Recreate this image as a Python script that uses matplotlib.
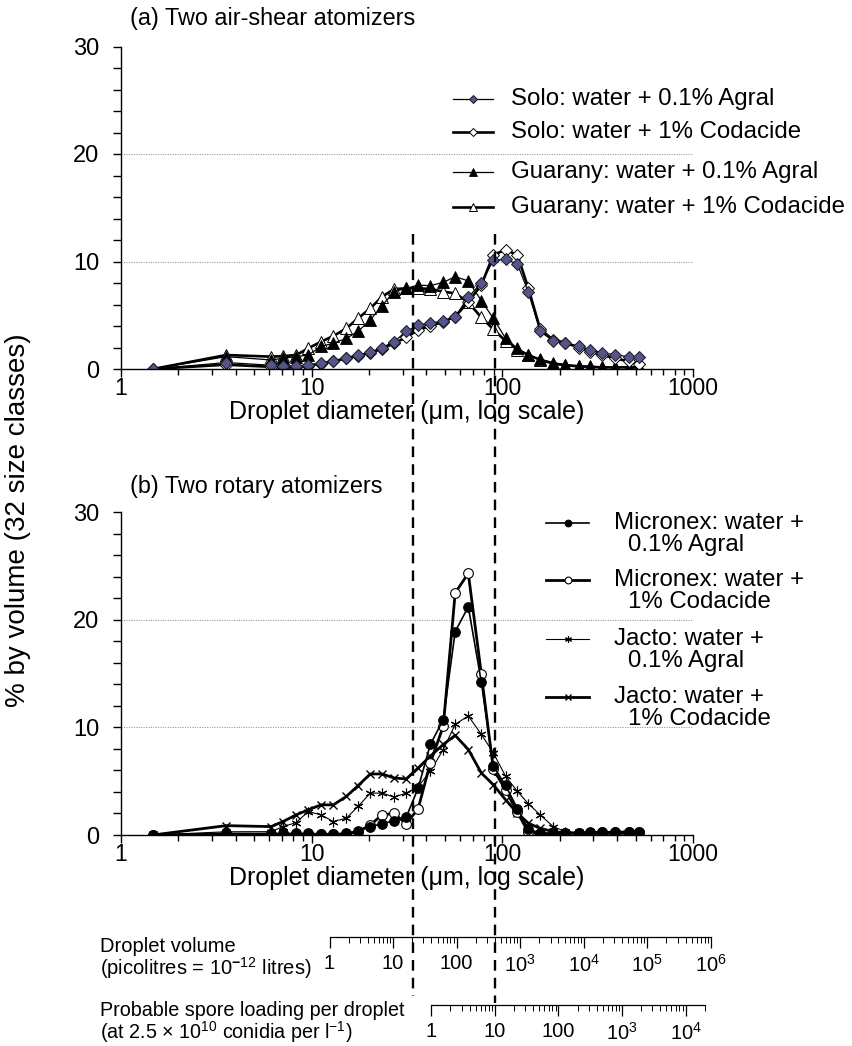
import numpy as np
import matplotlib
matplotlib.use('Agg')
import matplotlib.pyplot as plt
from matplotlib.lines import Line2D
from matplotlib.ticker import LogLocator, NullFormatter

plt.rcParams['font.family'] = ['Liberation Sans', 'DejaVu Sans']
plt.rcParams['mathtext.fontset'] = 'custom'
plt.rcParams['mathtext.rm'] = 'Liberation Sans'
plt.rcParams['mathtext.it'] = 'Liberation Sans:italic'
plt.rcParams['mathtext.bf'] = 'Liberation Sans:bold'
plt.rcParams['axes.linewidth'] = 1.0

# droplet size classes (um)
diam = [1.47, 3.56, 6.13, 7.08, 8.29, 9.59, 11.2, 13.0, 15.2, 17.5, 20.3,
        23.4, 27.1, 31.3, 36.2, 41.9, 49.0, 56.6, 66.3, 77.6, 89.7, 104,
        120, 137, 158, 185, 214, 251, 290, 335, 392, 459, 524]

# (a) air-shear atomizers, % by volume
solo_agral = [0, 0.6, 0.35, 0.3, 0.28, 0.37, 0.55, 0.75, 1.05, 1.3, 1.55,
              2.0, 2.54, 3.5, 4.05, 4.3, 4.45, 4.87, 6.67, 8.03, 10.1, 10.2,
              9.77, 7.13, 3.5, 2.6, 2.4, 2.14, 1.77, 1.52, 1.3, 1.15, 1.15]
solo_codacide = [0, 0.4, 0.2, 0.15, 0.15, 0.3, 0.5, 0.7, 1.0, 1.25, 1.5,
                 1.9, 2.39, 2.95, 3.63, 4.0, 4.4, 4.87, 6.26, 7.81, 10.6, 11.1,
                 10.6, 7.5, 3.69, 2.7, 2.45, 2.0, 1.6, 1.3, 1.0, 0.7, 0.5]
guarany_agral = [0, 1.15, 0.84, 1.0, 1.15, 1.3, 2.1, 2.4, 2.85, 3.5, 4.55,
                 5.9, 7.19, 7.5, 7.81, 7.75, 8.06, 8.59, 8.19, 6.36, 4.71, 2.85,
                 1.92, 1.3, 0.9, 0.6, 0.4, 0.3, 0.25, 0.2, 0.2, 0.2, 0.2]
guarany_codacide = [0, 1.3, 1.15, 1.2, 1.3, 1.92, 2.54, 3.07, 3.78, 4.71, 5.64,
                    6.73, 7.44, 7.5, 7.5, 7.45, 7.19, 7.04, 6.2, 4.8, 3.7, 2.6,
                    1.8, 1.3, 0.85, 0.5, 0.35, 0.25, 0.2, 0.15, 0.15, 0.15, 0.15]

# (b) rotary atomizers, % by volume
micronex_agral = [0, 0.16, 0.1, 0.15, 0.15, 0.15, 0.1, 0.1, 0.15, 0.4, 0.78,
                  1.03, 1.34, 1.65, 4.36, 8.41, 10.7, 18.9, 21.2, 14.2, 6.4, 4.6,
                  2.45, 0.55, 0.18, 0.18, 0.2, 0.2, 0.25, 0.25, 0.28, 0.3, 0.3]
micronex_codacide = [0, 0.05, 0.1, 0.05, 0.05, 0.05, 0.05, 0.05, 0.1, 0.3, 0.93,
                     1.87, 2.0, 1.03, 2.45, 6.7, 10.1, 22.5, 24.3, 14.95, 6.1, 4.2,
                     2.1, 0.25, 0.1, 0.1, 0.15, 0.2, 0.2, 0.25, 0.25, 0.3, 0.3]
jacto_agral = [0, 0.3, 0.31, 0.78, 1.15, 2.18, 1.87, 1.25, 1.56, 2.65, 3.89,
               3.89, 3.52, 3.89, 4.5, 5.92, 7.94, 10.28, 11.06, 9.35, 7.63, 5.45,
               4.05, 2.9, 1.87, 0.78, 0.31, 0.2, 0.2, 0.2, 0.2, 0.2, 0.2]
jacto_codacide = [0, 0.87, 0.78, 1.25, 1.87, 2.34, 2.8, 2.8, 3.58, 4.58, 5.67,
                  5.67, 5.3, 5.2, 6.23, 7.32, 8.41, 9.25, 7.94, 5.76, 4.67, 3.27,
                  2.02, 1.09, 0.62, 0.31, 0.2, 0.15, 0.15, 0.15, 0.15, 0.15, 0.15]

# droplet sizes marked by dashed lines (um) and how far down they run (% units)
cut_sizes = [34, 92]
cut_ends = [-58.3, -59.0]

W, H = 852, 1046
fig = plt.figure(figsize=(W / 100, H / 100), dpi=100)


def box(l, t, r, b):
    return [l / W, 1 - b / H, (r - l) / W, (b - t) / H]


ax_a = fig.add_axes(box(121, 46.5, 693, 369))
ax_b = fig.add_axes(box(121, 512, 693, 835))


def style(ax):
    ax.set_xscale('log')
    ax.set_xlim(1, 1000)
    ax.set_ylim(0, 30)
    ax.patch.set_visible(False)
    ax.spines['top'].set_visible(False)
    ax.spines['right'].set_visible(False)
    ax.set_yticks([0, 10, 20, 30])
    ax.set_yticks(np.arange(0, 31, 2), minor=True)
    ax.set_xticks([1, 10, 100, 1000])
    ax.set_xticklabels(['1', '10', '100', '1000'])
    ax.xaxis.set_minor_locator(LogLocator(subs=np.arange(2, 10)))
    ax.xaxis.set_minor_formatter(NullFormatter())
    ax.tick_params(which='both', direction='out', width=1)
    ax.tick_params(axis='y', which='both', length=5.5)
    ax.tick_params(axis='y', which='major', labelsize=17, pad=10)
    ax.tick_params(axis='x', which='major', length=5.5, labelsize=16.5, pad=0)
    ax.tick_params(axis='x', which='minor', length=4)
    for yv in (10, 20):
        ax.axhline(yv, color='#9a9a9a', lw=0.8, ls=(0, (1, 1.2)), zorder=0)
    ax.set_xlabel('Droplet diameter (μm, log scale)', fontsize=18, labelpad=0)


style(ax_a)
style(ax_b)

solo_fill = '#55558a'
sa = dict(color='k', lw=0.9, marker='D', ms=6, mfc=solo_fill, mec='#1a1a2a', mew=0.7)
sc = dict(color='k', lw=1.9, marker='D', ms=6, mfc='white', mec='k', mew=0.7)
ga = dict(color='k', lw=0.9, marker='^', ms=8, mfc='k', mec='k', mew=0.6)
gc = dict(color='k', lw=1.9, marker='^', ms=8, mfc='white', mec='k', mew=0.7)

ax_a.plot(diam, guarany_codacide, **gc)
ax_a.plot(diam, guarany_agral, **ga)
ax_a.plot(diam, solo_codacide, **sc)
ax_a.plot(diam, solo_agral, **sa)

ma = dict(color='k', lw=1.2, marker='o', ms=7, mfc='k', mec='k', mew=0.7)
mc = dict(color='k', lw=2.0, marker='o', ms=7, mfc='white', mec='k', mew=0.8)
ja = dict(color='k', lw=0.8, marker=(6, 2, 0), ms=7, mec='k', mew=0.8)
jc = dict(color='k', lw=2.0, marker='x', ms=6, mec='k', mew=1.0)

ax_b.plot(diam, jacto_agral, **ja)
ax_b.plot(diam, jacto_codacide, **jc)
ax_b.plot(diam, micronex_codacide, **mc)
ax_b.plot(diam, micronex_agral, **ma)

# dashed reference lines running down through both panels and the scales
for d, y_end in zip(cut_sizes, cut_ends):
    ax_a.plot([d, d], [12.6, y_end], color='k', lw=1.7, ls=(0, (4.5, 3)),
              clip_on=False, zorder=5)


# legends drawn by hand (handle sits level with the first text line)
def key(x0, x1, y, style_kw, lines, tx, indent, size, gap):
    kw = dict(style_kw)
    kw['ms'] = kw['ms'] * 0.7
    fig.add_artist(Line2D([x0 / W, (x0 + x1) / 2 / W, x1 / W], [1 - y / H] * 3,
                          transform=fig.transFigure, markevery=[1], **kw))
    for i, ln in enumerate(lines):
        fig.text((tx + (indent if i else 0)) / W, 1 - (y + i * gap) / H, ln,
                 fontsize=size, va='center', ha='left')


LEG = 17.3
key(453, 493, 99, sa, ['Solo: water + 0.1% Agral'], 511, 0, LEG, 0)
key(453, 493, 132, sc, ['Solo: water + 1% Codacide'], 511, 0, LEG, 0)
key(453, 493, 172, ga, ['Guarany: water + 0.1% Agral'], 511, 0, LEG, 0)
key(453, 493, 207, gc, ['Guarany: water + 1% Codacide'], 511, 0, LEG, 0)

key(546, 589, 523, ma, ['Micronex: water +', '0.1% Agral'], 614, 14, LEG, 22)
key(546, 589, 580, mc, ['Micronex: water +', '1% Codacide'], 614, 14, LEG, 22)
key(546, 589, 639, ja, ['Jacto: water +', '0.1% Agral'], 614, 14, LEG, 22)
key(546, 589, 697, jc, ['Jacto: water +', '1% Codacide'], 614, 14, LEG, 22)

fig.text(130 / W, 1 - 18 / H, '(a) Two air-shear atomizers', fontsize=16.8, va='center')
fig.text(130 / W, 1 - 487 / H, '(b) Two rotary atomizers', fontsize=16.8, va='center')
fig.text(18 / W, 1 - 520 / H, '% by volume (32 size classes)', rotation=90,
         fontsize=20, va='center', ha='center')


# secondary scales: droplet volume (pL) and spore loading per droplet
def px_of_diam(d):
    return 121 + 572 * np.log10(d) / 3


def diam_of_vol(v):
    return (6000 * v / np.pi) ** (1 / 3)


def scale_axis(y, lo, hi, ticks, labels, to_vol):
    xl = px_of_diam(diam_of_vol(to_vol(lo)))
    xr = px_of_diam(diam_of_vol(to_vol(hi)))
    ax = fig.add_axes([xl / W, 1 - y / H, (xr - xl) / W, 0.0001])
    ax.set_xscale('log')
    ax.set_xlim(lo, hi)
    ax.patch.set_visible(False)
    for s in ['top', 'left', 'right']:
        ax.spines[s].set_visible(False)
    ax.spines['bottom'].set_linewidth(0.9)
    ax.set_yticks([])
    ax.set_xticks(ticks)
    ax.set_xticklabels(labels)
    ax.xaxis.set_minor_locator(LogLocator(subs=np.arange(2, 10), numticks=20))
    ax.xaxis.set_minor_formatter(NullFormatter())
    ax.tick_params(axis='x', which='major', direction='out', length=8, width=0.9,
                   labelsize=14.5, pad=4)
    ax.tick_params(axis='x', which='minor', direction='out', length=4, width=0.7)
    return ax


vol_ticks = [1, 10, 100, 1e3, 1e4, 1e5, 1e6]
vol_labels = ['1', '10', '100', '$10^3$', '$10^4$', '$10^5$', '$10^6$']
spore_ticks = [1, 10, 100, 1e3, 1e4]
spore_labels = ['1', '10', '100', '$10^3$', '$10^4$']
spores_per_pl = 0.025  # 2.5e10 conidia per litre

scale_axis(937, 1, 1e6, vol_ticks, vol_labels, lambda v: v)
scale_axis(1005, 1, 2e4, spore_ticks, spore_labels, lambda s: s / spores_per_pl)

fig.text(100 / W, 1 - 946 / H, 'Droplet volume', fontsize=14.5, va='center')
fig.text(100 / W, 1 - 968 / H, '(picolitres = 10$^{\\mathbf{-}12}$ litres)',
         fontsize=14.5, va='center')
fig.text(100 / W, 1 - 1010 / H, 'Probable spore loading per droplet', fontsize=14.2,
         va='center')
fig.text(100 / W, 1 - 1032 / H, '(at 2.5 × 10$^{10}$ conidia per l$^{-1}$)',
         fontsize=14.2, va='center')

fig.savefig('out.png', dpi=100)
